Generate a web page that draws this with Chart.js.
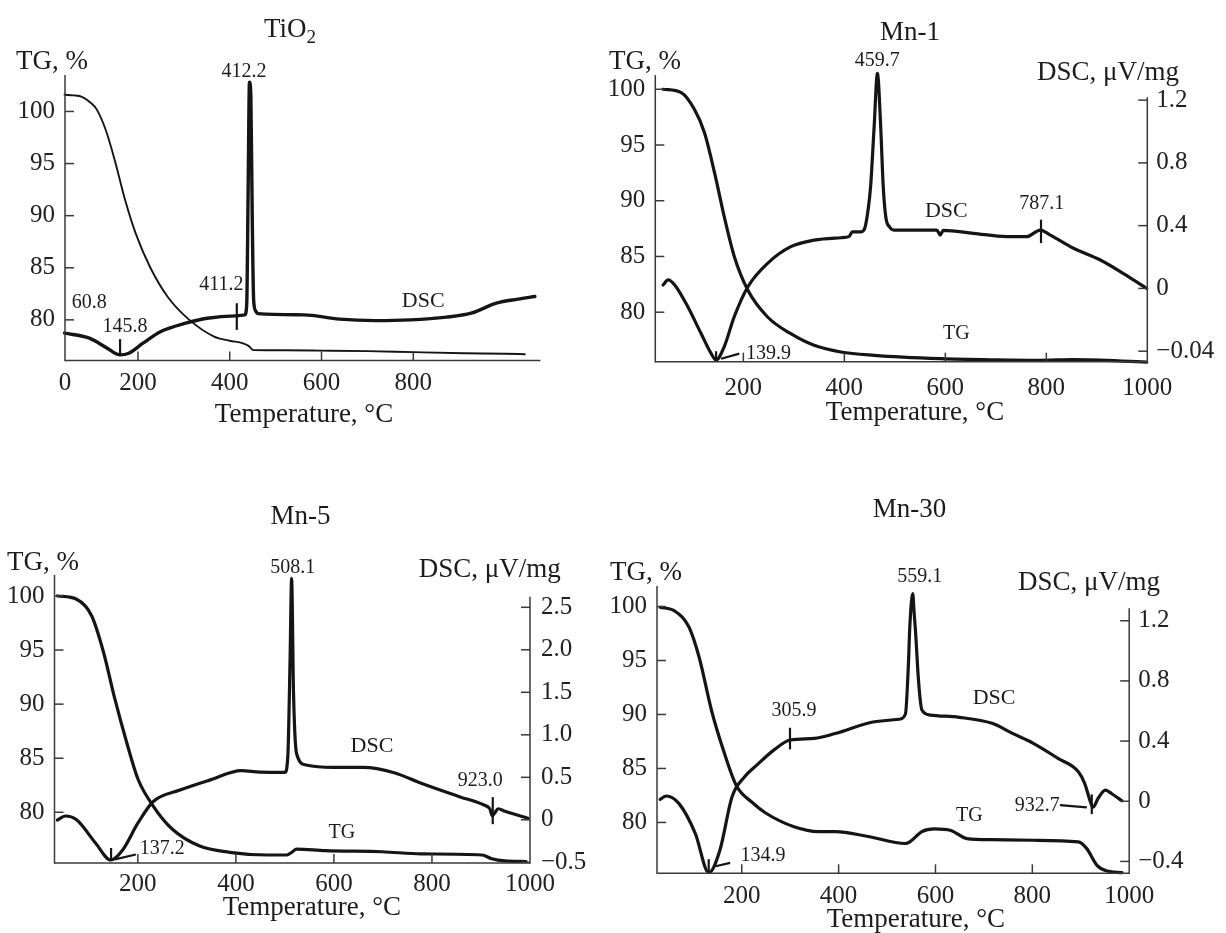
<!DOCTYPE html>
<html><head><meta charset="utf-8">
<script src="https://cdn.jsdelivr.net/npm/chart.js@4.4.1/dist/chart.umd.min.js"></script>
<style>
html,body{margin:0;padding:0;background:#fff;}
body{width:1226px;height:933px;position:relative;overflow:hidden;}
canvas{position:absolute;display:block;}
</style></head><body>
<canvas id="c1" width="590" height="460" style="left:0;top:0"></canvas>
<canvas id="c2" width="636" height="460" style="left:590px;top:0"></canvas>
<canvas id="c3" width="600" height="473" style="left:0;top:460px"></canvas>
<canvas id="c4" width="626" height="473" style="left:600px;top:460px"></canvas>
<script>
// ---------- DATA (temperature in °C, TG in %, DSC in µV/mg) ----------
// TiO2 (DSC has no scale in the figure: read in TG-axis units)
const tioTgTemp = [40,60,78,95,110,130,149,172,195,226,265,312,366,400,429,441,452,520,600,700,800,911,1000,1043];
const tioTgVal  = [101.6,101.55,101.4,100.9,100.2,98.2,95.4,91.5,88.3,85.1,82.2,80.0,78.4,78.0,77.75,77.5,77.1,77.08,77.05,77.0,76.9,76.8,76.75,76.7];
const tioDscTemp = [40,94,133,161,180,211,250,304,351,413,433,437,440,443,446,449,452,456,462,561,639,716,794,872,926,981,1028,1065];
const tioDscVal  = [78.72,78.24,77.28,76.64,76.8,77.76,78.88,79.68,80.16,80.38,80.48,81.5,92,102.8,101.5,90,82,80.9,80.6,80.48,80.07,79.93,80.0,80.26,80.64,81.6,81.99,82.24];

// Mn-1
const mn1TgTemp = [41,77,103,123,143,162,182,209,248,294,340,393,459,590,700,788,853,999];
const mn1TgVal  = [100.0,99.7,98.2,96.1,92.5,88.6,85.0,81.97,79.57,78.07,77.03,76.43,76.13,75.83,75.72,75.68,75.75,75.53];
const mn1DscTemp = [41,51,64,90,116,136,146,162,182,209,248,294,340,393,409,416,432,440,447,452,459,465.5,472,477,482,490,498,511,583,590,596,656,722,761,788,808,854,907,952,999];
const mn1DscVal  = [0.022,0.054,0.022,-0.117,-0.286,-0.414,-0.456,-0.372,-0.18,0.011,0.16,0.266,0.308,0.323,0.33,0.36,0.36,0.38,0.5,0.648,1.03,1.37,1.03,0.65,0.457,0.39,0.372,0.372,0.372,0.34,0.37,0.351,0.33,0.33,0.372,0.34,0.256,0.181,0.096,0.0];

// Mn-5
const mn5TgTemp = [36,75,106,130,153,177,200,231,270,325,387,465,504,514,524,582,699,778,902,922,949,992];
const mn5TgVal  = [100.0,99.7,98.15,94.8,90.5,86.5,83.1,80.6,78.45,76.9,76.3,76.05,76.05,76.3,76.6,76.45,76.35,76.15,76.05,75.7,75.5,75.45];
const mn5DscTemp = [36,52,75,114,145,169,200,231,286,348,411,450,500,506,510.6,513.7,517.6,523.8,543,598,660,723,778,856,906,918,923,928,935,949,996];
const mn5DscVal  = [-0.002,0.045,0,-0.276,-0.473,-0.355,-0.04,0.213,0.35,0.47,0.578,0.56,0.558,0.75,1.9,2.84,1.49,0.78,0.645,0.617,0.617,0.554,0.43,0.272,0.174,0.13,0.05,0.08,0.13,0.1,0.018];

// Mn-30
const mn30TgTemp = [31.5,61,91,112,138,163.5,189,223,248.5,308,359,393,461,538,547,572,598,632,665,717,802,895,912,934,955,985];
const mn30TgVal  = [99.93,99.6,98.1,95.3,90.3,86.5,83.4,81.8,80.9,79.6,79.15,79.15,78.7,78.05,78.2,79.15,79.4,79.25,78.5,78.4,78.35,78.2,77.6,76.0,75.5,75.35];
const mn30DscTemp = [31.5,44,70,104,132,155,180,206,231,266,300,350,393,478,525,538,544,547,553,556,559,565,572,589,649,717,759,802,853,895,908,921,925,936,951,964,985];
const mn30DscVal  = [0.013,0.035,-0.014,-0.213,-0.475,-0.324,0.03,0.163,0.24,0.34,0.407,0.418,0.45,0.53,0.545,0.58,0.9,1.16,1.38,1.25,1.12,0.8,0.606,0.573,0.558,0.518,0.451,0.385,0.285,0.196,0.119,-0.014,-0.04,0.02,0.074,0.05,0.003];

// ---------- TICKS ----------
const tioXTickValues = [41,200,400,600,800];
const tioXTickLabels = ['0','200','400','600','800'];
const mnXTickValues  = [200,400,600,800,1000];
const mnXTickLabels  = ['200','400','600','800','1000'];
const tgTickValues   = [80,85,90,95,100];
const tgTickLabels   = ['80','85','90','95','100'];
const mn1DscTickValues = [-0.4,0,0.4,0.8,1.2];
const mn1DscTickLabels = ['\u22120.04','0','0.4','0.8','1.2'];
const mn5DscTickValues = [-0.5,0,0.5,1.0,1.5,2.0,2.5];
const mn5DscTickLabels = ['\u22120.5','0','0.5','1.0','1.5','2.0','2.5'];
const mn30DscTickValues = [-0.4,0,0.4,0.8,1.2];
const mn30DscTickLabels = ['\u22120.4','0','0.4','0.8','1.2'];

// ---------- RENDERING ----------
const serif = '"Liberation Serif","Times New Roman",serif';
Chart.defaults.font.family = serif;
Chart.defaults.animation = false;

function pts(t, v){ return t.map((x,i)=>({x:x, y:v[i]})); }

function extras(spec){
  return {
    id:'extras'+spec.id,
    afterDraw(chart){
      const ctx = chart.ctx, a = chart.chartArea, sx = chart.scales.x, sy = chart.scales.y, s2 = chart.scales.y2;
      const seg = (x1,y1,x2,y2)=>{ctx.beginPath();ctx.moveTo(x1,y1);ctx.lineTo(x2,y2);ctx.stroke();};
      ctx.save();
      ctx.strokeStyle = '#3a3a3a'; ctx.lineWidth = 1.5;
      seg(a.left, a.top, a.left, a.bottom+0.7);
      seg(a.left, a.bottom, a.right, a.bottom);
      if (s2) seg(a.right, s2.getPixelForValue(spec.rightTop), a.right, a.bottom+0.7);
      const tl = 9;
      spec.xMarks.forEach(v=>{const p=sx.getPixelForValue(v); seg(p,a.bottom,p,a.bottom-tl);});
      sy.ticks.forEach(t=>{const p=sy.getPixelForValue(t.value); seg(a.left,p,a.left+tl,p);});
      if (s2) s2.ticks.forEach(t=>{const p=s2.getPixelForValue(t.value); seg(a.right,p,a.right-tl,p);});
      ctx.strokeStyle = '#151515'; ctx.lineWidth = 2.2;
      spec.marks.forEach(m=>seg(sx.getPixelForValue(m[0]),sy.getPixelForValue(m[1]),sx.getPixelForValue(m[2]),sy.getPixelForValue(m[3])));
      ctx.fillStyle = '#1c1c1c'; ctx.textBaseline = 'middle';
      spec.notes.forEach(n=>{
        ctx.font = (n.size||20)+'px '+serif; ctx.textAlign = n.align||'center';
        ctx.fillText(n.text, sx.getPixelForValue(n.x), sy.getPixelForValue(n.y));
      });
      spec.labels.forEach(n=>{
        ctx.font = (n.size||27)+'px '+serif;
        if (n.sub){
          const w1 = ctx.measureText(n.text).width;
          ctx.font = '19px '+serif; const w2 = ctx.measureText(n.sub).width;
          const x0 = n.px - (w1+w2)/2;
          ctx.textAlign='left';
          ctx.font = (n.size||27)+'px '+serif; ctx.fillText(n.text, x0, n.py);
          ctx.font = '19px '+serif; ctx.fillText(n.sub, x0+w1, n.py+8);
        } else {
          ctx.textAlign = n.align||'center';
          ctx.fillText(n.text, n.px, n.py);
        }
      });
      ctx.restore();
    }
  };
}

function build(spec){
  const tickFont = {size:25, family:serif};
  const scales = {
    x:{type:'linear', bounds:'data', min:spec.xMin, max:spec.xMax,
       afterFit:s=>{s.height=spec.xH;},
       afterBuildTicks:s=>{s.ticks=spec.xTicks.map(v=>({value:v}));},
       grid:{display:false, drawTicks:false}, border:{display:false},
       ticks:{autoSkip:false, maxRotation:0, minRotation:0, padding:spec.xPad, color:'#222', font:tickFont,
              callback:(v,i)=>spec.xLabels[i]}},
    y:{type:'linear', position:'left', bounds:'data', min:spec.yMin, max:spec.yMax,
       afterFit:s=>{s.width=spec.yW;},
       afterBuildTicks:s=>{s.ticks=tgTickValues.map(v=>({value:v}));},
       grid:{display:false, drawTicks:false}, border:{display:false},
       ticks:{autoSkip:false, padding:10, color:'#222', font:tickFont, callback:(v,i)=>tgTickLabels[i]}}
  };
  if (spec.y2){
    scales.y2 = {type:'linear', position:'right', bounds:'data', min:spec.y2Min, max:spec.y2Max,
       afterFit:s=>{s.width=spec.y2W;},
       afterBuildTicks:s=>{s.ticks=spec.y2Ticks.map(v=>({value:v}));},
       grid:{display:false, drawTicks:false}, border:{display:false},
       ticks:{autoSkip:false, padding:spec.y2Pad, color:'#222', font:tickFont, callback:(v,i)=>spec.y2Labels[i]}};
  }
  const ds = spec.series.map(s=>({label:s.label, data:s.data, yAxisID:s.axis, borderColor:'#151515',
      borderWidth:s.w, pointRadius:0, fill:false, cubicInterpolationMode:'monotone', clip:false,
      borderJoinStyle:'round', borderCapStyle:'round'}));
  return new Chart(document.getElementById(spec.id), {
    type:'line',
    data:{datasets:ds},
    options:{responsive:false, devicePixelRatio:1, animation:false, parsing:false,
      layout:{padding:{top:spec.padTop, left:0, right:spec.padR||0, bottom:0}},
      plugins:{legend:{display:false}, tooltip:{enabled:false}},
      scales},
    plugins:[extras(spec)]
  });
}

// TiO2
build({id:'c1', xMin:41, xMax:1077, yMin:76.1, yMax:103.5, xH:99.5, yW:65, padR:49.6, padTop:75, xPad:7.5,
  xTicks:tioXTickValues, xLabels:tioXTickLabels, xMarks:[200,400,600,800],
  series:[{label:'TG', data:pts(tioTgTemp,tioTgVal), axis:'y', w:1.9},
          {label:'DSC', data:pts(tioDscTemp,tioDscVal), axis:'y', w:3.4}],
  marks:[[415.4,79.04,415.4,81.6],[161,76.54,161,78.15]],
  notes:[{text:'412.2',x:431,y:103.84},{text:'411.2',x:382,y:83.36},{text:'60.8',x:94,y:81.6},
         {text:'145.8',x:172,y:79.36},{text:'DSC',x:821.5,y:81.76,size:22}],
  labels:[{text:'TiO',sub:'2',px:290,py:30},{text:'TG, %',px:16,py:62,align:'left'},
          {text:'Temperature, °C',px:304,py:415}]
});

// Mn-1
build({id:'c2', xMin:25.6, xMax:1000, yMin:75.56, yMax:101.28, y2:true, y2Min:-0.467, y2Max:1.36,
  xH:98.3, yW:65.3, y2W:78.7, padTop:75, xPad:11.6, y2Pad:9, rightTop:1.218,
  xTicks:mnXTickValues, xLabels:mnXTickLabels, xMarks:[200,400,600,800],
  y2Ticks:mn1DscTickValues, y2Labels:mn1DscTickLabels,
  series:[{label:'TG', data:pts(mn1TgTemp,mn1TgVal), axis:'y', w:3.2},
          {label:'DSC', data:pts(mn1DscTemp,mn1DscVal), axis:'y2', w:3.2}],
  marks:[[789.5,86.2,789.5,88.3],[146,75.6,146,76.5],[156,75.83,192,76.28]],
  notes:[{text:'459.7',x:465,y:102.6},{text:'DSC',x:602,y:89.1,size:22},{text:'787.1',x:791,y:89.7},
         {text:'TG',x:622,y:78.1},{text:'139.9',x:205.3,y:76.3,align:'left'}],
  labels:[{text:'Mn-1',px:320,py:33.3},{text:'TG, %',px:55,py:61.7},{text:'DSC, μV/mg',px:518,py:73.3},
          {text:'Temperature, °C',px:325,py:413.3}]
});

// Mn-5
build({id:'c3', xMin:30, xMax:1000, yMin:75.31, yMax:101.94, y2:true, y2Min:-0.508, y2Max:2.88,
  xH:70, yW:54.5, y2W:70, padTop:115, xPad:6.2, y2Pad:11, rightTop:2.625,
  xTicks:mnXTickValues, xLabels:mnXTickLabels, xMarks:[200,400,600,800],
  y2Ticks:mn5DscTickValues, y2Labels:mn5DscTickLabels,
  series:[{label:'TG', data:pts(mn5TgTemp,mn5TgVal), axis:'y', w:3.2},
          {label:'DSC', data:pts(mn5DscTemp,mn5DscVal), axis:'y2', w:3.2}],
  marks:[[924,78.9,924,81.4],[145.4,75.6,145.4,76.7],[153,75.64,196,76.1]],
  notes:[{text:'508.1',x:516,y:102.6},{text:'DSC',x:677.6,y:86.1,size:22},{text:'923.0',x:898.4,y:82.9},
         {text:'TG',x:616,y:78.1},{text:'137.2',x:204,y:76.6,align:'left'}],
  labels:[{text:'Mn-5',px:300.4,py:56.7},{text:'TG, %',px:43,py:103.3},{text:'DSC, μV/mg',px:489.8,py:110},
          {text:'Temperature, °C',px:311.9,py:448.3}]
});

// Mn-30
build({id:'c4', xMin:25, xMax:1000, yMin:75.29, yMax:101.9, y2:true, y2Min:-0.479, y2Max:1.431,
  xH:59.7, yW:57, y2W:96.8, padTop:126, xPad:8.4, y2Pad:9, rightTop:1.283,
  xTicks:mnXTickValues, xLabels:mnXTickLabels, xMarks:[200,400,600,800],
  y2Ticks:mn30DscTickValues, y2Labels:mn30DscTickLabels,
  series:[{label:'TG', data:pts(mn30TgTemp,mn30TgVal), axis:'y', w:3.2},
          {label:'DSC', data:pts(mn30DscTemp,mn30DscVal), axis:'y2', w:3.2}],
  marks:[[299.6,86.77,299.6,88.77],[922.7,80.77,922.7,82.6],[857,81.6,912.5,81.4],[131.8,75.4,131.8,76.6],[146,75.94,176,76.25]],
  notes:[{text:'559.1',x:567.7,y:102.77},{text:'305.9',x:308,y:90.3},{text:'DSC',x:721,y:91.54,size:22},
         {text:'932.7',x:810,y:81.53},{text:'TG',x:670,y:80.6},{text:'134.9',x:244,y:76.9}],
  labels:[{text:'Mn-30',px:309.6,py:50},{text:'TG, %',px:46,py:113.3},{text:'DSC, μV/mg',px:488.9,py:123.3},
          {text:'Temperature, °C',px:315.8,py:460}]
});
</script>
</body></html>
